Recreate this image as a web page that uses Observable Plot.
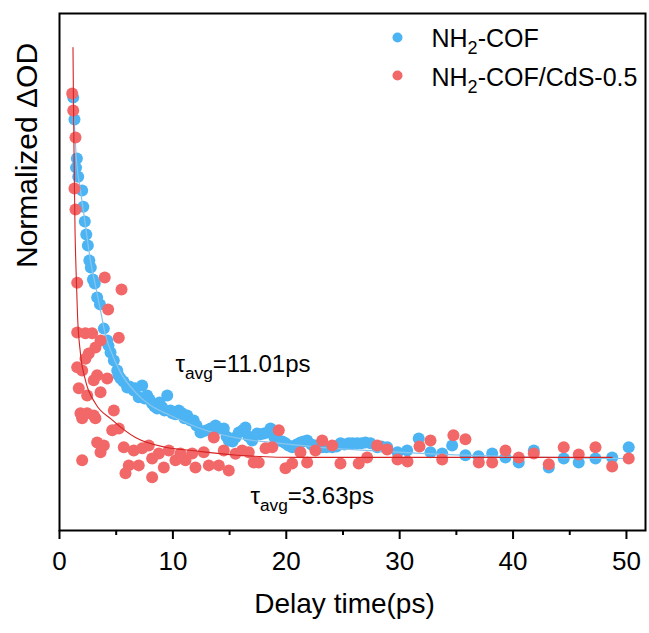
<!DOCTYPE html>
<html>
<head>
<meta charset="utf-8">
<script src="https://cdn.jsdelivr.net/npm/d3@7"></script>
<script src="https://cdn.jsdelivr.net/npm/@observablehq/plot@0.6"></script>
<style>
  html, body { margin: 0; padding: 0; background: #fff; }
  #chart { width: 649px; height: 633px; }
</style>
</head>
<body>
<div id="chart"></div>
<script>
// ---------------- data ----------------
const seriesNames = ["NH_{2}-COF", "NH_{2}-COF/CdS-0.5"];
const seriesColors = ["#4db4f4", "#f26868"];
const fitColors = ["#86c6ee", "#d42424"];

const blueTime = [1.21,1.32,1.53,1.46,1.65,2.00,2.10,2.23,2.36,2.50,2.63,2.76,2.95,3.11,3.32,3.57,3.91,4.21,4.32,4.50,4.79,5.09,5.20,5.38,5.64,5.97,6.17,6.55,6.70,6.99,7.29,7.50,7.73,7.94,8.17,8.38,8.62,8.82,9.06,9.26,9.50,9.79,9.96,10.23,10.52,10.82,11.02,11.26,11.55,11.84,12.08,12.43,12.70,13.02,13.32,13.76,14.11,14.49,14.73,14.93,15.26,15.52,15.81,16.14,16.40,16.67,16.99,17.43,17.72,18.02,18.34,18.61,18.96,19.34,19.66,19.93,20.19,20.52,20.90,21.25,21.52,21.84,22.22,22.57,22.84,23.17,23.54,24.05,24.43,24.78,25.13,25.51,25.84,26.25,26.63,26.98,27.43,28.02,28.40,28.90,29.81,30.66,31.68,32.72,33.75,34.63,35.80,36.95,38.16,39.33,40.50,41.83,43.15,44.47,45.79,47.27,48.74,50.20];
const blueOD = [0.995,0.934,0.826,0.801,0.776,0.738,0.693,0.652,0.616,0.586,0.544,0.525,0.492,0.481,0.442,0.423,0.356,0.323,0.309,0.290,0.268,0.240,0.227,0.218,0.210,0.193,0.196,0.185,0.191,0.166,0.199,0.163,0.171,0.160,0.149,0.141,0.135,0.152,0.138,0.130,0.171,0.130,0.122,0.119,0.130,0.122,0.108,0.116,0.102,0.102,0.088,0.069,0.072,0.075,0.080,0.088,0.080,0.080,0.058,0.047,0.044,0.055,0.069,0.075,0.083,0.058,0.047,0.066,0.064,0.066,0.069,0.080,0.055,0.047,0.044,0.039,0.033,0.028,0.036,0.041,0.044,0.047,0.036,0.033,0.030,0.028,0.028,0.028,0.030,0.039,0.036,0.039,0.039,0.039,0.039,0.041,0.039,0.028,0.030,0.028,0.014,0.019,0.052,0.014,0.011,0.033,0.006,0.003,0.011,0.000,-0.014,0.019,-0.028,-0.003,-0.014,-0.003,0.000,0.028];

const redTime = [1.12,1.21,1.41,1.32,1.41,1.56,1.56,2.29,2.88,3.62,5.23,3.99,5.47,4.29,3.17,2.58,2.29,1.56,2.00,3.32,3.02,4.21,1.70,2.44,3.62,1.85,2.44,3.02,4.79,2.00,3.17,4.65,5.23,3.32,3.91,2.00,3.62,5.67,6.55,7.29,7.87,8.76,9.64,10.67,11.70,12.72,13.61,14.49,15.52,6.11,6.99,8.17,9.20,10.23,11.11,11.99,13.17,14.05,14.93,5.82,8.17,16.11,16.69,17.13,17.57,18.17,18.76,19.34,19.93,20.52,21.25,21.84,22.57,23.17,24.05,24.78,26.39,27.13,28.02,28.90,29.81,30.69,31.75,32.72,33.75,34.74,35.80,36.98,38.16,39.33,40.50,41.83,43.15,44.47,45.79,47.27,48.74,50.20];
const redOD = [1.006,0.959,0.884,0.743,0.685,0.483,0.345,0.343,0.343,0.323,0.331,0.497,0.464,0.409,0.304,0.287,0.273,0.249,0.240,0.227,0.213,0.218,0.191,0.171,0.180,0.122,0.122,0.116,0.130,0.108,0.108,0.075,0.080,0.041,0.033,-0.008,0.014,0.028,0.019,0.025,0.033,0.011,0.019,0.011,0.011,0.014,0.055,0.019,0.010,-0.022,-0.022,-0.003,-0.028,-0.008,-0.008,-0.028,-0.022,-0.022,-0.036,-0.044,-0.055,0.019,0.014,-0.014,-0.014,0.025,0.028,0.075,-0.030,-0.017,0.014,-0.014,0.019,0.047,0.033,-0.017,-0.017,0.000,0.033,0.022,-0.006,-0.011,0.030,0.047,-0.006,0.061,0.050,-0.014,-0.014,0.019,0.000,0.011,-0.019,0.028,0.008,0.028,-0.025,-0.003];

const blueFitTime = [1.19,1.50,1.85,2.29,2.73,3.17,3.62,4.06,4.50,5.38,6.70,8.02,9.79,12.43,15.96,19.49,23.02,27.43,31.83,38.89,50.18];
const blueFitOD   = [1.000,0.820,0.738,0.641,0.544,0.475,0.406,0.337,0.296,0.235,0.180,0.144,0.116,0.080,0.052,0.039,0.028,0.019,0.011,0.003,-0.003];
const redFitTime = [1.19,1.23,1.30,1.37,1.46,1.59,1.85,2.29,3.17,4.59,6.70,9.35,11.73,15.70,21.25,48.74];
const redFitOD   = [1.133,0.986,0.793,0.627,0.517,0.392,0.287,0.213,0.149,0.105,0.055,0.028,0.019,0.006,0.000,0.000];

const xMajorTicks = [0, 10, 20, 30, 40, 50];
const xMinorTicks = [5, 15, 25, 35, 45];
const xDomain = [0, 51.68];
const yDomain = [-0.202, 1.227];

const annotations = ["τ_{avg}=11.01ps", "τ_{avg}=3.63ps"];
const annotationTime = [10.23, 16.84];
const annotationOD = [0.236, -0.130];

const xLabel = "Delay time(ps)";
const yLabel = "Normalized ΔOD";

// ---------------- build ----------------
const blue = blueTime.map((t, i) => ({t, v: blueOD[i]}));
const red = redTime.map((t, i) => ({t, v: redOD[i]}));
const blueFit = blueFitTime.map((t, i) => ({t, v: blueFitOD[i]}));
const redFit = redFitTime.map((t, i) => ({t, v: redFitOD[i]}));
const notes = annotations.map((s, i) => ({s, t: annotationTime[i], v: annotationOD[i]}));

const font = "'Liberation Sans', Arial, sans-serif";

const chart = Plot.plot({
  width: 649,
  height: 633,
  marginLeft: 59,
  marginRight: 4,
  marginTop: 13,
  marginBottom: 103,
  style: {fontFamily: font, background: "#fff", color: "#000", overflow: "visible"},
  x: {domain: xDomain},
  y: {domain: yDomain, axis: null},
  marks: [
    Plot.dot(blue, {x: "t", y: "v", r: 6, fill: seriesColors[0], stroke: "none"}),
    Plot.line(blueFit, {x: "t", y: "v", stroke: fitColors[0], strokeWidth: 1.2, curve: "monotone-x"}),
    Plot.dot(red, {x: "t", y: "v", r: 6, fill: seriesColors[1], stroke: "none"}),
    Plot.line(redFit, {x: "t", y: "v", stroke: fitColors[1], strokeWidth: 1.1, curve: "monotone-x"}),
    Plot.frame({stroke: "#000", strokeWidth: 2}),
    Plot.axisX({ticks: xMajorTicks, tickSize: 9, tickPadding: 12, fontSize: 26, strokeWidth: 2, label: null}),
    Plot.axisX({ticks: xMinorTicks, tickSize: 5, tickFormat: () => "", strokeWidth: 2, label: null}),
    Plot.text(notes, {x: "t", y: "v", text: "s", textAnchor: "start", lineAnchor: "bottom", fontSize: 24, fill: "#000"}),
    // legend
    Plot.dot([0], {frameAnchor: "top-left", dx: 338, dy: 24, r: 5, fill: seriesColors[0]}),
    Plot.dot([1], {frameAnchor: "top-left", dx: 338, dy: 62, r: 5, fill: seriesColors[1]}),
    Plot.text([seriesNames[0]], {text: d => d, frameAnchor: "top-left", dx: 372, dy: 33, textAnchor: "start", lineAnchor: "bottom", fontSize: 25, fill: "#000"}),
    Plot.text([seriesNames[1]], {text: d => d, frameAnchor: "top-left", dx: 372, dy: 72, textAnchor: "start", lineAnchor: "bottom", fontSize: 25, fill: "#000"}),
    // axis titles
    Plot.text([xLabel], {text: d => d, frameAnchor: "bottom", dx: -8, dy: 82, fontSize: 28, fill: "#000"}),
    Plot.text([yLabel], {text: d => d, frameAnchor: "left", rotate: -90, dx: -32, dy: -4, fontSize: 30, fill: "#000"})
  ]
});

document.getElementById("chart").appendChild(chart);

// turn "_{...}" markers into real subscript tspans
const NS = "http://www.w3.org/2000/svg";
chart.querySelectorAll("text").forEach(el => {
  const s = el.textContent;
  if (!s.includes("_{")) return;
  const fs = parseFloat(getComputedStyle(el).fontSize) || 20;
  const parts = s.split(/(_\{[^}]*\})/).filter(p => p.length);
  el.textContent = "";
  let shifted = false;
  parts.forEach(p => {
    const ts = document.createElementNS(NS, "tspan");
    if (p.startsWith("_{")) {
      ts.textContent = p.slice(2, -1);
      ts.setAttribute("font-size", (fs * 0.72).toFixed(1));
      ts.setAttribute("dy", (fs * 0.28).toFixed(1));
      shifted = true;
    } else {
      ts.textContent = p;
      if (shifted) { ts.setAttribute("dy", (-fs * 0.28).toFixed(1)); shifted = false; }
    }
    el.appendChild(ts);
  });
});
</script>
</body>
</html>
